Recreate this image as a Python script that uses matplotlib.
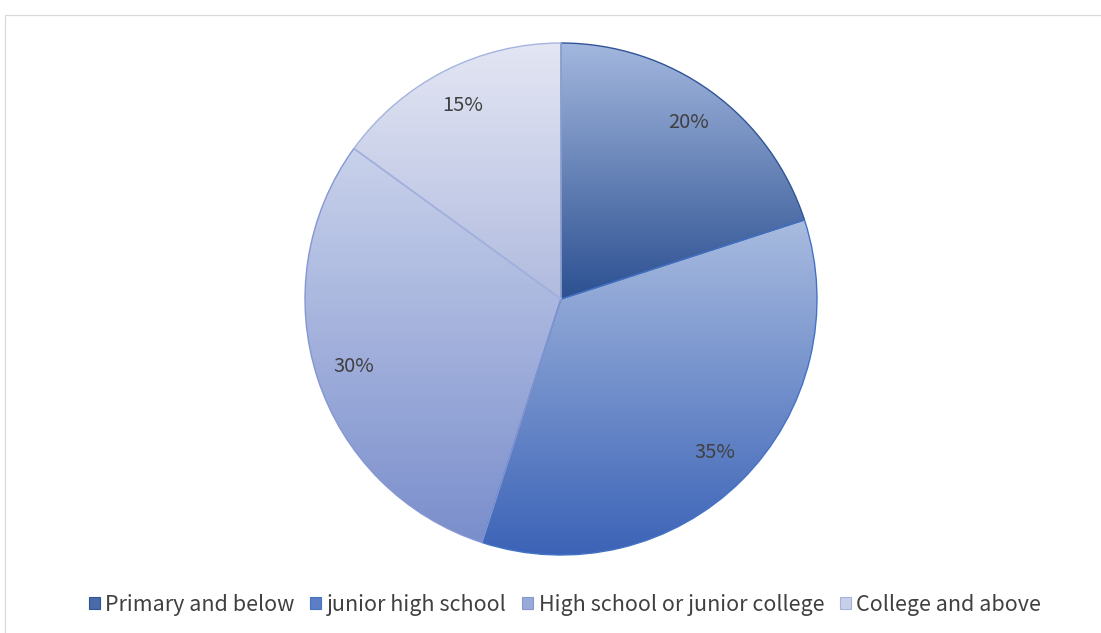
import numpy as np
import matplotlib
matplotlib.use('Agg')
import matplotlib.pyplot as plt
from matplotlib.colors import to_rgb
from matplotlib.patches import Patch, Rectangle

plt.rcParams['font.family'] = ['Noto Sans CJK SC', 'DejaVu Sans']

labels = ['Primary and below', 'junior high school', 'High school or junior college', 'College and above']
shares = [20, 35, 30, 15]
# (top colour, bottom colour) of each slice's gradient, edge colour
tops    = ['#a3b7de', '#a9bce0', '#c9d2eb', '#e3e6f3']
bottoms = ['#2c5091', '#3a62b6', '#7a8ecc', '#b1bbdf']
edges   = ['#2f5597', '#4472c4', '#8497d2', '#a5b4de']

W, H = 1101, 633
fig = plt.figure(figsize=(W / 100, H / 100), dpi=100)
ax = fig.add_axes([0, 0, 1, 1])

cx, cy, R = 561, H - 299, 256
wedges, texts, autotexts = ax.pie(shares, startangle=90, counterclock=False,
                                  radius=R, center=(cx, cy), frame=True,
                                  autopct=lambda p: f'{p:.0f}%', pctdistance=0.85,
                                  textprops=dict(fontsize=14.5, color='#404040'))

for w, top, bot, ec in zip(wedges, tops, bottoms, edges):
    verts = w.get_path().vertices
    x0, x1 = verts[:, 0].min(), verts[:, 0].max()
    y0, y1 = verts[:, 1].min(), verts[:, 1].max()
    t = np.linspace(0, 1, 256)[:, None]
    grad = (1 - t) * np.array(to_rgb(bot)) + t * np.array(to_rgb(top))
    im = ax.imshow(grad[:, None, :], extent=(x0, x1, y0, y1), origin='lower',
                   aspect='auto', zorder=1, interpolation='bilinear')
    im.set_clip_path(w)
    w.set_facecolor('none')
    w.set_edgecolor(ec)
    w.set_linewidth(1.0)
    w.set_zorder(2)

for t in autotexts:
    t.set_zorder(3)

ax.add_patch(Rectangle((4.5, -20), 1200, H - 14.5 + 20, fill=False,
                       edgecolor='#d9d9d9', linewidth=0.9, zorder=0))

handles = [Patch(facecolor=c, edgecolor=e, linewidth=0.8)
           for c, e in zip(['#4a6aa8', '#5b7ec6', '#9aaad8', '#c8cfe9'], edges)]
ax.legend(handles, labels, loc='center', bbox_to_anchor=(565 / W, 1 - 605 / H),
          ncol=4, frameon=False, fontsize=15.5, handlelength=0.5, handleheight=0.5,
          handletextpad=0.25, columnspacing=0.75, labelcolor='#404040')

ax.set_xlim(0, W)
ax.set_ylim(0, H)
ax.set_aspect('equal')
ax.axis('off')

fig.savefig('out.png', dpi=100)
